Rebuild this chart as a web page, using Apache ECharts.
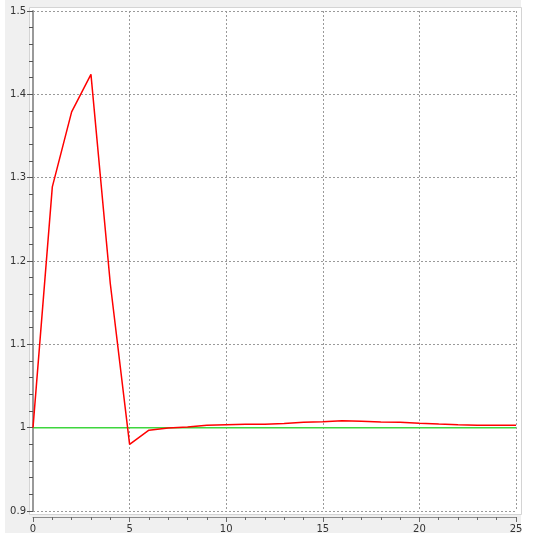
<!DOCTYPE html>
<html><head><meta charset="utf-8">
<script src="https://cdn.jsdelivr.net/npm/echarts@6/dist/echarts.min.js"></script>
<style>html,body{margin:0;padding:0;background:#fff}#c{width:543px;height:537px}</style>
</head><body><div id="c"></div>
<script>
const xValues = [0,1,2,3,4,5,6,7,8,9,10,11,12,13,14,15,16,17,18,19,20,21,22,23,24,25];
const redSeries = [1.0,1.289,1.379,1.424,1.173,0.980,0.997,0.9996,1.0008,1.003,1.0036,1.004,1.004,1.005,1.0065,1.007,1.0084,1.0078,1.0068,1.0065,1.0053,1.0044,1.0036,1.003,1.003,1.003];
const greenSeries = xValues.map(() => 1.0);
const yTicks = {min: 0.9, max: 1.5, interval: 0.1};
const xTicks = {min: 0, max: 25, interval: 5};

const chart = echarts.init(document.getElementById('c'), null, {renderer: 'canvas'});
const font = 'DejaVu Sans';
chart.setOption({
  animation: false,
  backgroundColor: '#ffffff',
  graphic: [
    {type: 'rect', z: -10, silent: true, shape: {x: 5, y: 0, width: 516, height: 533}, style: {fill: '#f0f0f0'}},
    {type: 'rect', z: -9, silent: true, shape: {x: 29.5, y: 7.5, width: 492, height: 507}, style: {fill: '#ffffff', stroke: '#d4d4d4', lineWidth: 1}}
  ],
  grid: {left: 33, right: 27, top: 11, bottom: 26},
  xAxis: {
    type: 'value', min: xTicks.min, max: xTicks.max, interval: xTicks.interval,
    offset: 6,
    axisLine: {show: true, lineStyle: {color: '#8a8a8a', width: 1}},
    axisTick: {show: true, length: 5, inside: false, lineStyle: {color: '#6a6a6a'}},
    minorTick: {show: true, splitNumber: 5, length: 3, lineStyle: {color: '#6a6a6a'}},
    axisLabel: {fontFamily: font, fontSize: 10, color: '#333', margin: 7},
    splitLine: {show: true, lineStyle: {color: '#9a9a9a', type: [2, 2], width: 1}}
  },
  yAxis: {
    type: 'value', min: yTicks.min, max: yTicks.max, interval: yTicks.interval,
    offset: 4,
    axisLine: {show: true, lineStyle: {color: '#9a9a9a', width: 2}},
    axisTick: {show: true, length: 6, lineStyle: {color: '#555'}},
    minorTick: {show: true, splitNumber: 5, length: 4, lineStyle: {color: '#555'}},
    axisLabel: {fontFamily: font, fontSize: 10, color: '#333', margin: 3},
    splitLine: {show: true, lineStyle: {color: '#9a9a9a', type: [2, 2], width: 1}}
  },
  series: [
    {type: 'line', data: xValues.map((x, i) => [x, greenSeries[i]]), showSymbol: false, symbol: 'none',
     lineStyle: {color: '#3ed63e', width: 1.5}, z: 3},
    {type: 'line', data: xValues.map((x, i) => [x, redSeries[i]]), showSymbol: false, symbol: 'none',
     lineStyle: {color: '#ff0000', width: 1.5}, z: 4}
  ]
});
</script></body></html>
